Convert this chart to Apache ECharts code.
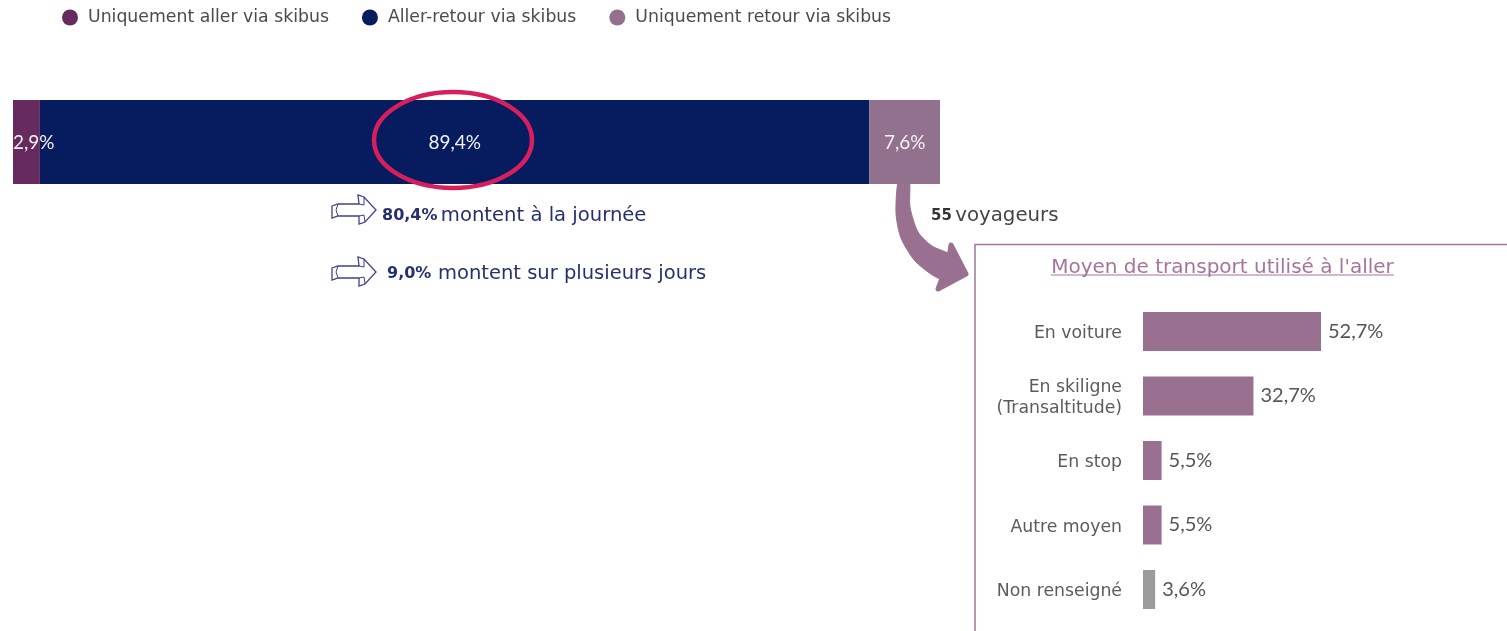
<!DOCTYPE html>
<html><head><meta charset="utf-8">
<style>html,body{margin:0;padding:0;background:#fff}#c{width:1507px;height:631px}</style>
<script src="https://cdn.jsdelivr.net/npm/echarts@6/dist/echarts.min.js"></script>
</head><body><div id="c"></div>
<script>
const shareCategory = ['Voyageurs'];
const seriesNames = ['Uniquement aller via skibus', 'Aller-retour via skibus', 'Uniquement retour via skibus'];
const allerValues = [2.9];
const allerRetourValues = [89.4];
const retourValues = [7.6];
const transportCategories = ['En voiture', 'En skiligne\n(Transaltitude)', 'En stop', 'Autre moyen', 'Non renseigné'];
const transportValues = [52.7, 32.7, 5.5, 5.5, 3.6];
const totalTop = 99.9;

const FONT = 'DejaVu Sans';
const fmt = v => v.toFixed(1).replace('.', ',') + '%';
const topLabel = (position, distance) => ({
  show: true, position, distance, offset: [0, 1], color: '#f2f0f5', fontFamily: 'Lato', fontSize: 19,
  formatter: p => fmt(p.value)
});
const arrowOutline = [[0,-3],[6,-5],[27,-5],[26,-14],[32,-12],[44,1],[33,13],[27,15],[27,7],[6,7],[0,9]];
const arrowDetails = [
  [[6,-5],[4,1],[6,7]], [[27,-5],[32,-4],[32,-12]], [[27,7],[32,6],[33,13]]
];
const smallArrow = (x, y) => [
  {type: 'polygon', z: 5, x, y, shape: {points: arrowOutline}, style: {fill: '#fff', stroke: '#3f4190', lineWidth: 1.3}},
  ...arrowDetails.map(points => ({type: 'polyline', z: 6, x, y, shape: {points}, style: {fill: 'none', stroke: '#3f4190', lineWidth: 1}}))
];
const curvedShaft = [[899,178],[896,213],[901,238],[916,262],[942,279],[951,256],[932,246],[918,232],[910,207],[909,178]];
const curvedHead = [[949,258],[951,245],[966,274],[938,289],[943,276]];

const labelBase = {fontFamily: FONT, fontSize: 17.3, color: '#5b5b5b', align: 'right'};
const chart = echarts.init(document.getElementById('c'), null, {renderer: 'canvas'});
chart.setOption({
  animation: false,
  backgroundColor: '#ffffff',
  legend: {
    left: 57, top: 4, itemWidth: 16, itemHeight: 16, itemGap: 33, icon: 'circle',
    data: seriesNames,
    textStyle: {fontFamily: FONT, fontSize: 17.3, color: '#4a4a50', padding: [0, 0, 0, 5]}
  },
  title: {
    text: "Moyen de transport utilisé à l'aller", left: 1217.5, top: 253, textAlign: 'center',
    textStyle: {fontFamily: FONT, fontWeight: 400, fontSize: 20, color: '#a5749b'}
  },
  grid: [
    {left: 13, top: 100, width: 927, height: 84},
    {left: 1143, top: 299.25, width: 337.8, height: 322.5}
  ],
  xAxis: [
    {gridIndex: 0, type: 'value', min: 0, max: totalTop, show: false},
    {gridIndex: 1, type: 'value', min: 0, max: 100, show: false}
  ],
  yAxis: [
    {gridIndex: 0, type: 'category', data: shareCategory, show: false},
    {gridIndex: 1, type: 'category', data: transportCategories, inverse: true,
     axisLine: {show: false}, axisTick: {show: false},
     axisLabel: {margin: 21, align: 'right',
       formatter: v => v.includes('\n') ? v.split('\n').map(l => '{b|' + l + '}').join('\n') : '{a|' + v + '}',
       rich: {
         a: {...labelBase, lineHeight: 16, padding: [5, 0, 0, 0]},
         b: {...labelBase, lineHeight: 21, padding: [5, 0, 0, 0]}
       }}}
  ],
  series: [
    {name: seriesNames[0], type: 'bar', stack: 'a', z: 3, xAxisIndex: 0, yAxisIndex: 0, barWidth: 84, data: allerValues,
     itemStyle: {color: '#662a5f'}, label: topLabel('insideLeft', 0)},
    {name: seriesNames[1], type: 'bar', stack: 'a', z: 3, xAxisIndex: 0, yAxisIndex: 0, barWidth: 84, data: allerRetourValues,
     itemStyle: {color: '#061c5e'}, label: topLabel('inside')},
    {name: seriesNames[2], type: 'bar', stack: 'a', z: 3, xAxisIndex: 0, yAxisIndex: 0, barWidth: 84, data: retourValues,
     itemStyle: {color: '#92718f'}, label: topLabel('inside')},
    {type: 'bar', z: 3, xAxisIndex: 1, yAxisIndex: 1, barWidth: 39, data: transportValues,
     itemStyle: {color: p => p.name === 'Non renseigné' ? '#9b9b9b' : '#997090'},
     label: {show: true, position: 'right', distance: 7, fontFamily: 'Lato', fontSize: 20, color: '#555555', formatter: p => fmt(p.value)}}
  ],
  graphic: [
    {type: 'rect', z: 1, shape: {x: 975, y: 244.5, width: 540, height: 400}, style: {fill: 'none', stroke: '#a5749b', lineWidth: 1.5}},
    {type: 'line', z: 5, shape: {x1: 1051, y1: 275, x2: 1394, y2: 275}, style: {stroke: '#a5749b', lineWidth: 1.2}},
    {type: 'ellipse', z: 10, shape: {cx: 453, cy: 140, rx: 79, ry: 48}, style: {fill: 'none', stroke: '#d81f5e', lineWidth: 4.5}},
    {type: 'polygon', z: 1, shape: {points: curvedShaft, smooth: 0.25}, style: {fill: '#997090', stroke: '#997090', lineWidth: 1}},
    {type: 'polygon', z: 1, shape: {points: curvedHead}, style: {fill: '#997090', stroke: '#997090', lineWidth: 5, lineJoin: 'round'}},
    ...smallArrow(332, 209),
    ...smallArrow(332, 271),
    {type: 'text', z: 5, x: 382, y: 216, style: {
      text: '{b|80,4%} {n|montent à la journée}', verticalAlign: 'middle',
      rich: {b: {fontFamily: FONT, fontWeight: 700, fontSize: 16, fill: '#27306f', color: '#27306f'}, n: {fontFamily: FONT, fontSize: 19.6, fill: '#27306f', color: '#27306f'}}}},
    {type: 'text', z: 5, x: 387, y: 274, style: {
      text: '{b|9,0%}  {n|montent sur plusieurs jours}', verticalAlign: 'middle',
      rich: {b: {fontFamily: FONT, fontWeight: 700, fontSize: 16, fill: '#27306f', color: '#27306f'}, n: {fontFamily: FONT, fontSize: 19.5, fill: '#27306f', color: '#27306f'}}}},
    {type: 'text', z: 5, x: 931, y: 216, style: {
      text: '{b|55} {n|voyageurs}', verticalAlign: 'middle',
      rich: {b: {fontFamily: FONT, fontWeight: 700, fontSize: 15, fill: '#333333', color: '#333333'}, n: {fontFamily: FONT, fontSize: 19.8, fill: '#444444', color: '#444444'}}}}
  ]
});
</script></body></html>
